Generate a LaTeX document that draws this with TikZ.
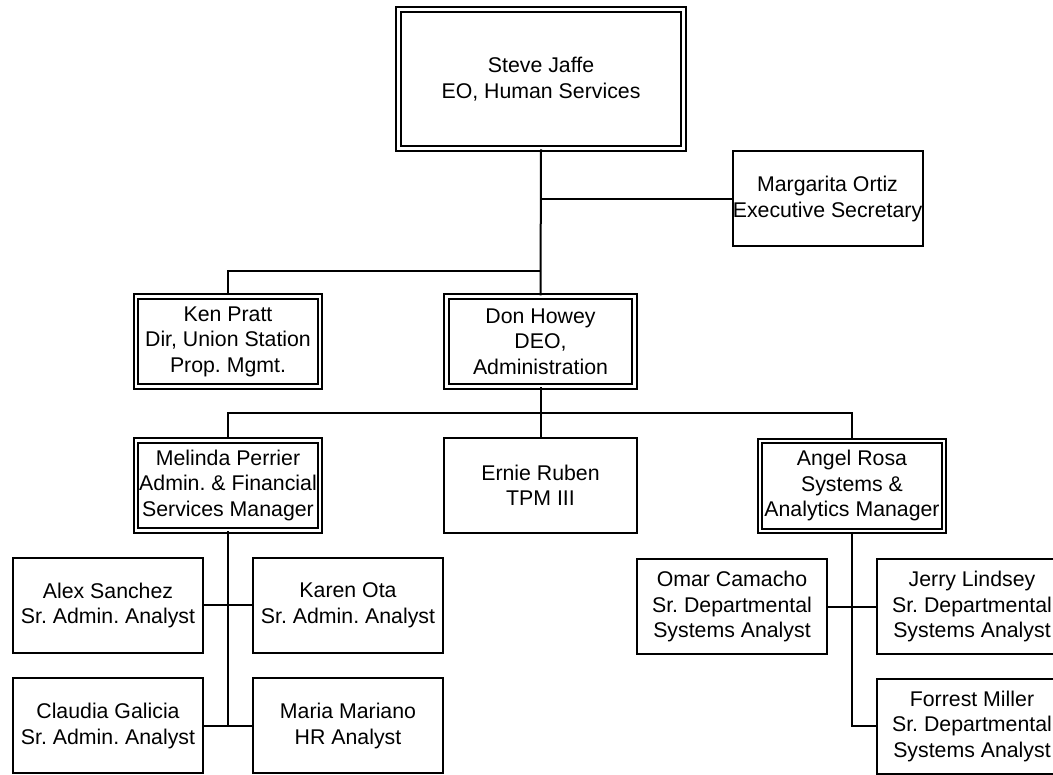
\documentclass[tikz,border=0pt]{standalone}
\usepackage{fontspec}
\setmainfont{Liberation Sans}
\frenchspacing

\begin{document}
\begin{tikzpicture}[
            x=1pt, y=1pt,
            box/.style={rectangle, draw=black, line width=2pt, inner sep=0pt,
                        minimum width=190pt, minimum height=95pt, align=center,
                        font=\fontsize{21.3}{25.5}\selectfont},
            dbox/.style={box, double, line width=2pt, double distance=2.8pt,
                        minimum width=184pt, minimum height=90pt},
            link/.style={line width=2pt, color=black}
        ]
            \useasboundingbox (0,0) rectangle (1053,775);

            % top level
            \node[dbox, minimum width=285pt, minimum height=139pt] (jaffe) at (541,696) {Steve Jaffe\\EO, Human Services};
            \node[box] (ortiz) at (827.5,576) {Margarita Ortiz\\Executive Secretary};

            % second level
            \node[dbox] (pratt) at (228,433.5) {Ken Pratt\\Dir, Union Station\\Prop. Mgmt.};
            \node[dbox, minimum width=188pt] (howey) at (540.5,433.5) {Don Howey\\DEO,\\Administration};

            % third level
            \node[dbox] (perrier) at (228,289.5) {Melinda Perrier\\Admin. \& Financial\\Services Manager};
            \node[box, minimum width=193pt] (ruben) at (540.5,289.5) {Ernie Ruben\\TPM III};
            \node[dbox] (rosa) at (852,289) {Angel Rosa\\Systems \&\\Analytics Manager};

            % admin staff
            \node[box] (sanchez) at (108,169.5) {Alex Sanchez\\Sr. Admin. Analyst};
            \node[box] (ota) at (348,169.5) {Karen Ota\\Sr. Admin. Analyst};
            \node[box] (galicia) at (108,49) {Claudia Galicia\\Sr. Admin. Analyst};
            \node[box] (mariano) at (348,49) {Maria Mariano\\HR Analyst};

            % systems staff
            \node[box] (camacho) at (732,168) {Omar Camacho\\Sr. Departmental\\Systems Analyst};
            \node[box] (lindsey) at (972,168) {Jerry Lindsey\\Sr. Departmental\\Systems Analyst};
            \node[box] (miller) at (972,48.5) {Forrest Miller\\Sr. Departmental\\Systems Analyst};

            \coordinate (bus1) at (541,504);
            \coordinate (bus2) at (540.5,362);

            \draw[link] (jaffe.south) -- (howey.north);
            \draw[link] (jaffe.south |- ortiz.west) -- (ortiz.west);
            \draw[link] (bus1) -| (pratt.north);

            \draw[link] (howey.south) -- (ruben.north);
            \draw[link] (bus2) -| (perrier.north);
            \draw[link] (bus2) -| (rosa.north);

            \draw[link] (perrier.south) -- (perrier.south |- galicia.east);
            \draw[link] (sanchez.east) -- (ota.west);
            \draw[link] (galicia.east) -- (mariano.west);

            \draw[link] (rosa.south) -- (rosa.south |- miller.west) -- (miller.west);
            \draw[link] (camacho.east) -- (lindsey.west);
        \end{tikzpicture}
\end{document}
